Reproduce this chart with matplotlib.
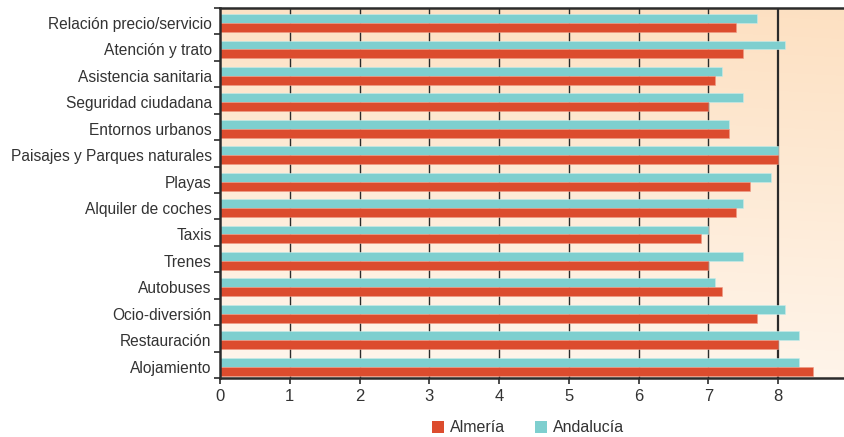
import numpy as np
import matplotlib.pyplot as plt
from matplotlib.patches import Patch

categories = [
    'Relación precio/servicio', 'Atención y trato', 'Asistencia sanitaria',
    'Seguridad ciudadana', 'Entornos urbanos', 'Paisajes y Parques naturales',
    'Playas', 'Alquiler de coches', 'Taxis', 'Trenes', 'Autobuses',
    'Ocio-diversión', 'Restauración', 'Alojamiento',
]
andalucia = [7.7, 8.1, 7.2, 7.5, 7.3, 8.0, 7.9, 7.5, 7.0, 7.5, 7.1, 8.1, 8.3, 8.3]
almeria = [7.4, 7.5, 7.1, 7.0, 7.3, 8.0, 7.6, 7.4, 6.9, 7.0, 7.2, 7.7, 8.0, 8.5]
xticks = list(range(0, 10))

teal = '#7ECFCF'
red = '#DC4C2E'
dark = '#2b2b2b'

plt.rcParams['font.family'] = ['Liberation Sans', 'DejaVu Sans']

fig = plt.figure(figsize=(8.45, 4.37), dpi=100)
ax = fig.add_axes([220 / 845, 1 - 378 / 437, (848 - 220) / 845, (378 - 8) / 437])

n = len(categories)
y = np.arange(n)
off = 0.07
h = 0.34

# background gradient: peach at the top fading to cream at the bottom
gy = np.linspace(0, 1, 100)[:, None]
gx = np.linspace(0, 1, 100)[None, :]
t = np.clip(0.92 * (1 - gy) + 0.08 * gx, 0, 1)
c_light = np.array([1.0, 0.965, 0.93])
c_dark = np.array([0.992, 0.88, 0.76])
img = c_light[None, None, :] * (1 - t[..., None]) + c_dark[None, None, :] * t[..., None]
ax.imshow(img, extent=[0, 9, n - 0.5, -0.5], aspect='auto', zorder=0,
          interpolation='bilinear')

for xv in range(1, 8):
    ax.axvline(xv, color=dark, lw=1.0, zorder=1)
ax.axvline(8, color=dark, lw=1.6, zorder=1)

ax.barh(y + off - h / 2, andalucia, height=h, color=teal,
        edgecolor='#c9ecea', linewidth=0.4, zorder=2)
ax.barh(y + off + h / 2, almeria, height=h, color=red,
        edgecolor='#ee9a85', linewidth=0.4, zorder=2)

ax.set_xlim(0, 9)
ax.set_ylim(n - 0.5, -0.5)
ax.set_xticks(xticks)
ax.set_xticklabels([str(v) for v in xticks], fontsize=12, color='#333333')
ax.set_yticks(np.arange(n + 1) - 0.5)
ax.set_yticklabels([])
ax.set_yticks(y + off, minor=True)
ax.set_yticklabels(categories, minor=True, fontsize=11.2, color='#333333')
ax.tick_params(axis='y', which='minor', length=0, pad=6)
ax.tick_params(axis='y', which='major', length=4, width=1.2, color=dark)
ax.tick_params(axis='x', length=4, width=1.2, color=dark, pad=4)

for s in ['left', 'bottom', 'top']:
    ax.spines[s].set_color(dark)
    ax.spines[s].set_linewidth(1.8)
ax.spines['right'].set_visible(False)

handles = [Patch(facecolor=red, label='Almería'),
           Patch(facecolor=teal, label='Andalucía')]
fig.legend(handles=handles, loc='center', bbox_to_anchor=(528 / 845, 1 - 428 / 437),
           ncol=2, frameon=False, fontsize=11.5, handlelength=0.75, handleheight=0.75,
           handletextpad=0.35, columnspacing=1.9, labelcolor='#333333')

fig.savefig('out.png', dpi=100)
